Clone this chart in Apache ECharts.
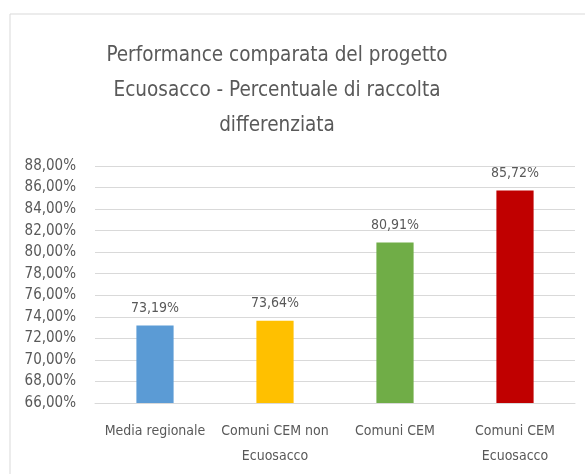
<!DOCTYPE html>
<html>
<head>
<meta charset="utf-8">
<script src="https://cdn.jsdelivr.net/npm/echarts@6/dist/echarts.min.js"></script>
<style>
  html, body { margin: 0; padding: 0; background: #fff; }
  #chart { width: 585px; height: 474px; }
</style>
</head>
<body>
<div id="chart"></div>
<script>
const categories = ['Media regionale', 'Comuni CEM non\nEcuosacco', 'Comuni CEM', 'Comuni CEM\nEcuosacco']
const values = [73.19, 73.64, 80.91, 85.72]
const barColors = ['#5b9bd5', '#ffc000', '#70ad47', '#c00000']

const font = '"DejaVu Sans Condensed", "Liberation Sans Narrow", sans-serif'
const fmt = v => v.toFixed(2).replace('.', ',') + '%'

const myChart = echarts.init(document.getElementById('chart'))
const option = {
  backgroundColor: '#fff',
  animation: false,
  title: {
    text: 'Performance comparata del progetto\nEcuosacco - Percentuale di raccolta\ndifferenziata',
    left: 272,
    textAlign: 'center',
    top: 33,
    textStyle: {
      color: '#595959',
      fontFamily: font,
      fontWeight: 'normal',
      fontSize: 20.5,
      lineHeight: 35
    }
  },
  graphic: [
    {
      type: 'rect',
      shape: { x: 10, y: 14, width: 600, height: 500 },
      style: { fill: 'none', stroke: '#d9d9d9', lineWidth: 1 },
      silent: true
    }
  ],
  grid: {
    left: 95,
    right: 10,
    top: 166,
    bottom: 71
  },
  xAxis: {
    type: 'category',
    data: categories,
    axisTick: { show: false },
    axisLine: { lineStyle: { color: '#d9d9d9' } },
    axisLabel: {
      color: '#595959',
      fontFamily: font,
      fontSize: 14,
      lineHeight: 25,
      margin: 16,
      interval: 0
    }
  },
  yAxis: {
    type: 'value',
    min: 66,
    max: 88,
    interval: 2,
    axisLine: { show: false },
    axisTick: { show: false },
    splitLine: { lineStyle: { color: '#d9d9d9' } },
    axisLabel: {
      color: '#595959',
      fontFamily: font,
      fontSize: 15,
      margin: 19,
      formatter: fmt
    }
  },
  series: [
    {
      type: 'bar',
      barWidth: '31%',
      data: values.map((v, i) => ({ value: v, itemStyle: { color: barColors[i] } })),
      label: {
        show: true,
        position: 'top',
        distance: 10,
        color: '#595959',
        fontFamily: font,
        fontSize: 14,
        formatter: p => fmt(p.value)
      }
    }
  ]
}
myChart.setOption(option)
</script>
</body>
</html>
